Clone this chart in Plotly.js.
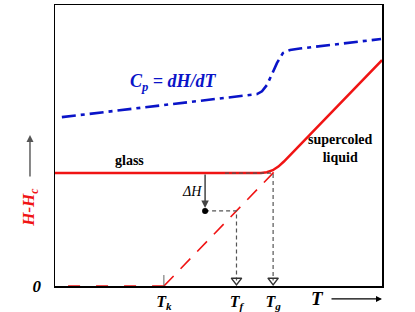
<!DOCTYPE html>
<html><head><meta charset="utf-8">
<script src="https://cdn.plot.ly/plotly-3.0.1.min.js"></script>
<style>html,body{margin:0;padding:0;background:#fff}#chart{width:415px;height:312px}</style>
</head><body><div id="chart"></div>
<script>
// characteristic temperatures (T axis, arbitrary units 0..10)
const T_k = 3.33, T_f = 5.55, T_g = 6.67;
const H_glass = 4.02;
const xTickVals = [T_k, T_f, T_g];
const xTickText = ['<b><i>T<sub>k</sub></i></b>', '<b><i>T<sub>f</sub></i></b>', '<b><i>T<sub>g</sub></i></b>'];
const yTickVals = [0];
const yTickText = ['<b><i>0</i></b>'];

// Cp = dH/dT curve (blue dash-dot)
const cpT = [0.21, 2.91, 5.44, 6.18, 6.33, 6.48, 6.64, 6.79, 6.97, 7.19, 7.49, 8.5, 9.97];
const cpH = [6.01, 6.37, 6.73, 6.83, 6.93, 7.15, 7.55, 7.94, 8.29, 8.40, 8.45, 8.58, 8.79];

// enthalpy: glass -> supercooled liquid (solid red)
const meltT = [0, 6.3, 6.48, 6.66, 6.83, 7.0, 10];
const meltH = [H_glass, H_glass, 4.05, 4.12, 4.25, 4.43, 8.04];

// extrapolated liquid line (red dashed)
const extrapT = [T_k, 6.85];
const extrapH = [0, 4.24];
const floorT = [0.4, T_k];
const floorH = [0, 0];

// Delta H construction
const dH_T = 4.59, dH_tip = 2.78, dH_end = 2.67;
const fictT = [dH_T, T_f, T_f];
const fictH = [dH_end, dH_end, 0.2];
const glassT = [5.2, T_g, T_g];
const glassH = [H_glass, H_glass, 0.2];
const headT = [T_f, T_g];
const headH = [0.2, 0.2];

const serif = 'Liberation Serif';

const traces = [
  {x: cpT, y: cpH, mode: 'lines', line: {color: '#0a14c8', width: 2.6, dash: '14px,5px,4px,5px'}},
  {x: floorT, y: floorH, mode: 'lines', line: {color: '#f01414', width: 1.6, dash: '12px,16px'}, cliponaxis: false},
  {x: extrapT, y: extrapH, mode: 'lines', line: {color: '#f01414', width: 1.6, dash: '14px,10px'}},
  {x: meltT, y: meltH, mode: 'lines', line: {color: '#f01414', width: 2.5}},
  {x: fictT, y: fictH, mode: 'lines', line: {color: '#555', width: 1.2, dash: '4px,3px'}},
  {x: glassT, y: glassH, mode: 'lines', line: {color: '#555', width: 1.2, dash: '4px,3px'}},
  {x: headT, y: headH, mode: 'markers', cliponaxis: false,
   marker: {symbol: 'triangle-down-open', size: 9, color: '#333', line: {width: 1.5, color: '#333'}}},
  {x: [dH_T], y: [dH_end], mode: 'markers', marker: {symbol: 'circle', size: 6, color: '#000'}},
  {x: [T_k, T_k], y: [0, 0.39], mode: 'lines', line: {color: '#666', width: 1}}
];

const layout = {
  width: 415, height: 312,
  margin: {l: 55, r: 33, t: 5, b: 26},
  paper_bgcolor: '#fff', plot_bgcolor: '#fff',
  showlegend: false,
  font: {family: serif, color: '#000'},
  xaxis: {range: [0, 10], showline: true, mirror: true, linecolor: '#000', linewidth: 1.5,
          showgrid: false, zeroline: false, ticks: '', tickvals: xTickVals, ticktext: xTickText,
          tickfont: {family: serif, size: 16, color: '#000'}, layer: 'below traces', fixedrange: true},
  yaxis: {range: [0, 10], showline: true, mirror: true, linecolor: '#000', linewidth: 1.5,
          showgrid: false, zeroline: false, ticks: '', tickvals: yTickVals, ticktext: yTickText,
          ticklabelstandoff: 9,
          tickfont: {family: serif, size: 17, color: '#000'}, layer: 'below traces', fixedrange: true},
  annotations: [
    {x: 3.61, y: 7.25, xref: 'x', yref: 'y', showarrow: false, xanchor: 'center', yanchor: 'middle',
     text: '<b><i>C<sub>p</sub> = dH/dT</i></b>', font: {family: serif, size: 18, color: '#0a14c8'}},
    {x: 2.29, y: 4.45, xref: 'x', yref: 'y', showarrow: false, xanchor: 'center', yanchor: 'middle',
     text: '<b>glass</b>', font: {family: serif, size: 14, color: '#000'}},
    {x: 8.72, y: 4.89, xref: 'x', yref: 'y', showarrow: false, xanchor: 'center', yanchor: 'middle',
     text: '<b>supercoled<br>liquid</b>', font: {family: serif, size: 14, color: '#000'}},
    {x: 4.19, y: 3.38, xref: 'x', yref: 'y', showarrow: false, xanchor: 'center', yanchor: 'middle',
     text: '<i>ΔH</i>', font: {family: serif, size: 14, color: '#000'}},
    {x: dH_T, y: dH_tip, xref: 'x', yref: 'y', axref: 'x', ayref: 'y', ax: dH_T, ay: H_glass,
     text: '', showarrow: true, arrowhead: 2, arrowsize: 1, arrowwidth: 1.5, arrowcolor: '#444'},
    // y-axis label and arrow
    {x: -0.075, y: 0.28, xref: 'paper', yref: 'paper', showarrow: false, textangle: -90,
     xanchor: 'center', yanchor: 'middle',
     text: '<b><i>H-H<sub>c</sub></i></b>', font: {family: serif, size: 17, color: '#f01414'}},
    {x: -0.0765, y: 0.537, xref: 'paper', yref: 'paper', ax: 0, ay: 43,
     text: '', showarrow: true, arrowhead: 2, arrowsize: 1, arrowwidth: 1.4, arrowcolor: '#555'},
    // x-axis label and arrow
    {x: 0.804, y: -0.044, xref: 'paper', yref: 'paper', showarrow: false,
     xanchor: 'center', yanchor: 'middle',
     text: '<b><i>T</i></b>', font: {family: serif, size: 19, color: '#000'}},
    {x: 1.0, y: -0.046, xref: 'paper', yref: 'paper', ax: -52, ay: 0,
     text: '', showarrow: true, arrowhead: 2, arrowsize: 1, arrowwidth: 1.2, arrowcolor: '#000'}
  ]
};

Plotly.newPlot('chart', traces, layout, {staticPlot: true, displayModeBar: false});
</script></body></html>
